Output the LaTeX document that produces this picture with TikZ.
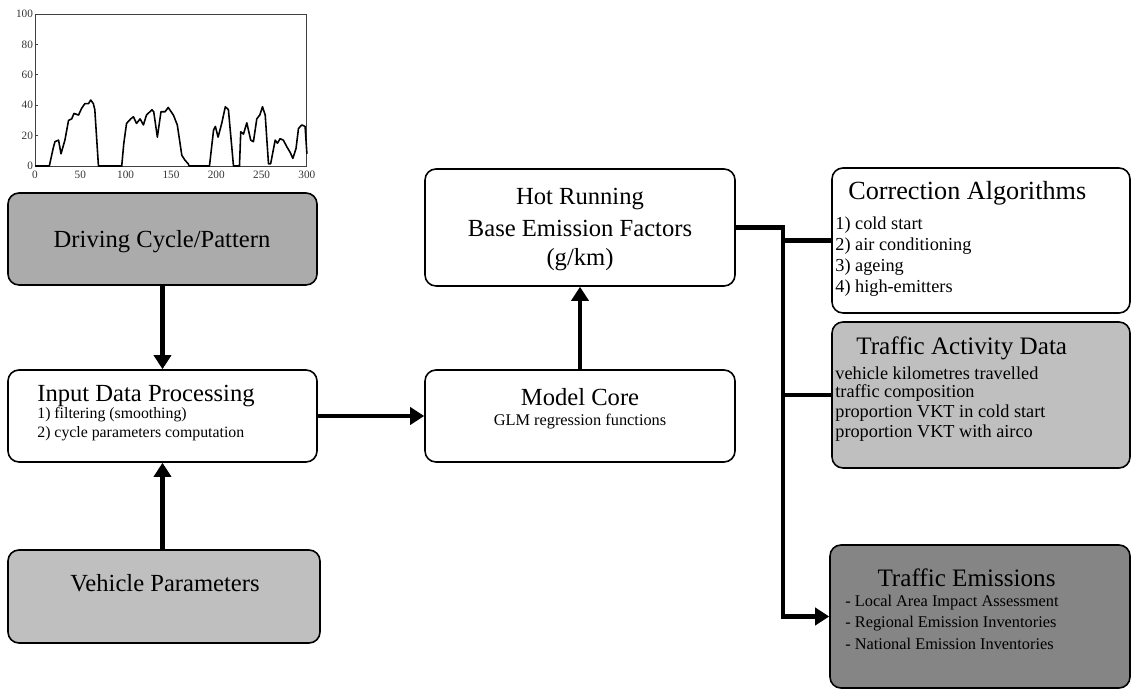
\documentclass[tikz,border=0pt]{standalone}
\usepackage{fontspec}
\setmainfont{Liberation Serif}
\usepackage{tikz}
\usetikzlibrary{shapes,arrows.meta,positioning,calc}

\definecolor{drivegray}{gray}{0.67}
\definecolor{paragray}{gray}{0.75}
\definecolor{emisgray}{gray}{0.52}

\tikzset{
  box/.style={draw, rounded corners=0.22cm, line width=0.9pt, minimum width=6.18cm, minimum height=1.84cm, inner sep=0pt},
  flow/.style={line width=2.6pt},
  head/.style={-{Triangle[length=0.28cm,width=0.34cm]}},
  title/.style={font=\fontsize{14}{16}\selectfont, inner sep=0pt},
  item/.style={font=\fontsize{9.3}{11}\selectfont, inner sep=0pt, anchor=west},
  bigitem/.style={item, font=\fontsize{10.4}{12}\selectfont},
  tick/.style={font=\fontsize{6.4}{7}\selectfont, inner sep=1pt, text=black!80}
}

\begin{document}
\begin{tikzpicture}
\useasboundingbox (0,0) rectangle (22.64,13.8);

% speed trace
\begin{scope}[shift={(0.7,10.48)}, x=0.018133cm, y=0.0304cm]
\draw[line width=0.5pt, black!75] (0,0) rectangle (300,100);
\foreach \v in {0,20,...,100} {
  \draw[line width=0.4pt, black!75] (0,\v) -- (3,\v);
  \node[tick, anchor=east] (yl\v) at (0,\v) {\v};
}
\foreach \t in {0,50,...,300}
  \node[tick, anchor=north] (xl\t) at (\t,-2) {\t};
\draw[line width=0.9pt, line join=round] plot coordinates {
  (0,0) (15.8,0) (20,11.5) (22,16) (26,17) (28.7,8) (33,17) (37,30) (40.5,31)
  (43,34.6) (48,33.5) (51.5,38) (55,41) (59,41) (61.5,43.4) (64.4,41) (66,37)
  (70,0) (95.7,0) (98,15) (101,28) (105.6,31) (108.6,32.4) (112,28) (116,31)
  (119.6,27) (123,33.5) (129,37) (131,35.7) (135,19) (139,35.7) (143.5,35.7)
  (147,38.5) (152.7,33.5) (157,27) (162,7) (165.6,3.7) (169,1.5) (170,0)
  (192.5,0) (197,23.6) (199,26) (202,19) (206,28) (210,39) (213.4,37) (219,0)
  (225.6,0) (227,22.5) (230,21) (233.7,28.4) (238,17) (241,16) (244.7,31)
  (248,33.5) (251,39) (254,33.5) (257.6,1.5) (260,1.5) (265,17) (267.5,15)
  (270.5,18) (274,17) (278,12.5) (281.5,9) (284.5,5) (288,11.5) (290.7,24.7)
  (294.4,27) (298,26) (300,8)};
\end{scope}

% left column
\node[box, fill=drivegray] (drive) at (3.25,9.02) {};
\node[title] (drivetxt) at (3.24,8.96) {Driving Cycle/Pattern};

\node[box] (input) at (3.25,5.48) {};
\node[title, anchor=west] (inputtxt) at (0.74,5.88) {Input Data Processing};
\node[item, font=\fontsize{9}{11}\selectfont] (in1) at (0.74,5.51) {1) filtering (smoothing)};
\node[item, font=\fontsize{9}{11}\selectfont] (in2) at (0.74,5.13) {2) cycle parameters computation};

\node[box, fill=paragray, minimum width=6.24cm, minimum height=1.86cm] (veh) at (3.28,1.87) {};
\node[title] (vehtxt) at (3.3,2.14) {Vehicle Parameters};

% middle column
\node[box, minimum width=6.2cm] (core) at (11.6,5.48) {};
\node[title] (coretxt) at (11.6,5.86) {Model Core};
\node[item, anchor=center] (core1) at (11.6,5.36) {GLM regression functions};

\node[box, minimum width=6.2cm, minimum height=2.34cm] (hot) at (11.6,9.25) {};
\node[title] (hot1) at (11.6,9.82) {Hot Running};
\node[title] (hot2) at (11.6,9.24) {Base Emission Factors};
\node[title] (hot3) at (11.6,8.6) {(g/km)};

% right column
\node[box, minimum width=5.96cm, minimum height=2.9cm] (corr) at (19.62,8.99) {};
\node[title, anchor=west, font=\fontsize{14.9}{17}\selectfont] (corrtxt) at (16.96,9.94) {Correction Algorithms};
\node[bigitem] (c1) at (16.7,9.3) {1) cold start};
\node[bigitem] (c2) at (16.7,8.88) {2) air conditioning};
\node[bigitem] (c3) at (16.7,8.46) {3) ageing};
\node[bigitem] (c4) at (16.7,8.04) {4) high-emitters};

\node[box, fill=paragray, minimum width=5.96cm, minimum height=2.92cm] (act) at (19.62,5.9) {};
\node[title, anchor=west, font=\fontsize{14.3}{16}\selectfont] (acttxt) at (17.12,6.84) {Traffic Activity Data};
\node[bigitem] (a1) at (16.7,6.34) {vehicle kilometres travelled};
\node[bigitem] (a2) at (16.7,5.94) {traffic composition};
\node[bigitem] (a3) at (16.7,5.54) {proportion VKT in cold start};
\node[bigitem] (a4) at (16.7,5.14) {proportion VKT with airco};

\node[box, fill=emisgray, minimum width=6.0cm, minimum height=2.86cm] (emis) at (19.6,1.47) {};
\node[title, font=\fontsize{14.3}{16}\selectfont] (emistxt) at (19.33,2.24) {Traffic Emissions};
\node[item] (e1) at (16.9,1.74) {- Local Area Impact Assessment};
\node[item] (e2) at (16.9,1.32) {- Regional Emission Inventories};
\node[item] (e3) at (16.9,0.92) {- National Emission Inventories};

% connectors
\draw[flow, head] (drive) -- (input);
\draw[flow, head] (veh.north -| input.south) -- (input.south);
\draw[flow, head] (input) -- (core);
\draw[flow, head] (core) -- (hot);
\draw[flow, head] (hot.east) -- ++(0.94,0) coordinate (bus) |- (emis.west);
\draw[flow] (bus |- corr.west) -- (corr.west);
\draw[flow] (bus |- act.west) -- (act.west);
\end{tikzpicture}
\end{document}
